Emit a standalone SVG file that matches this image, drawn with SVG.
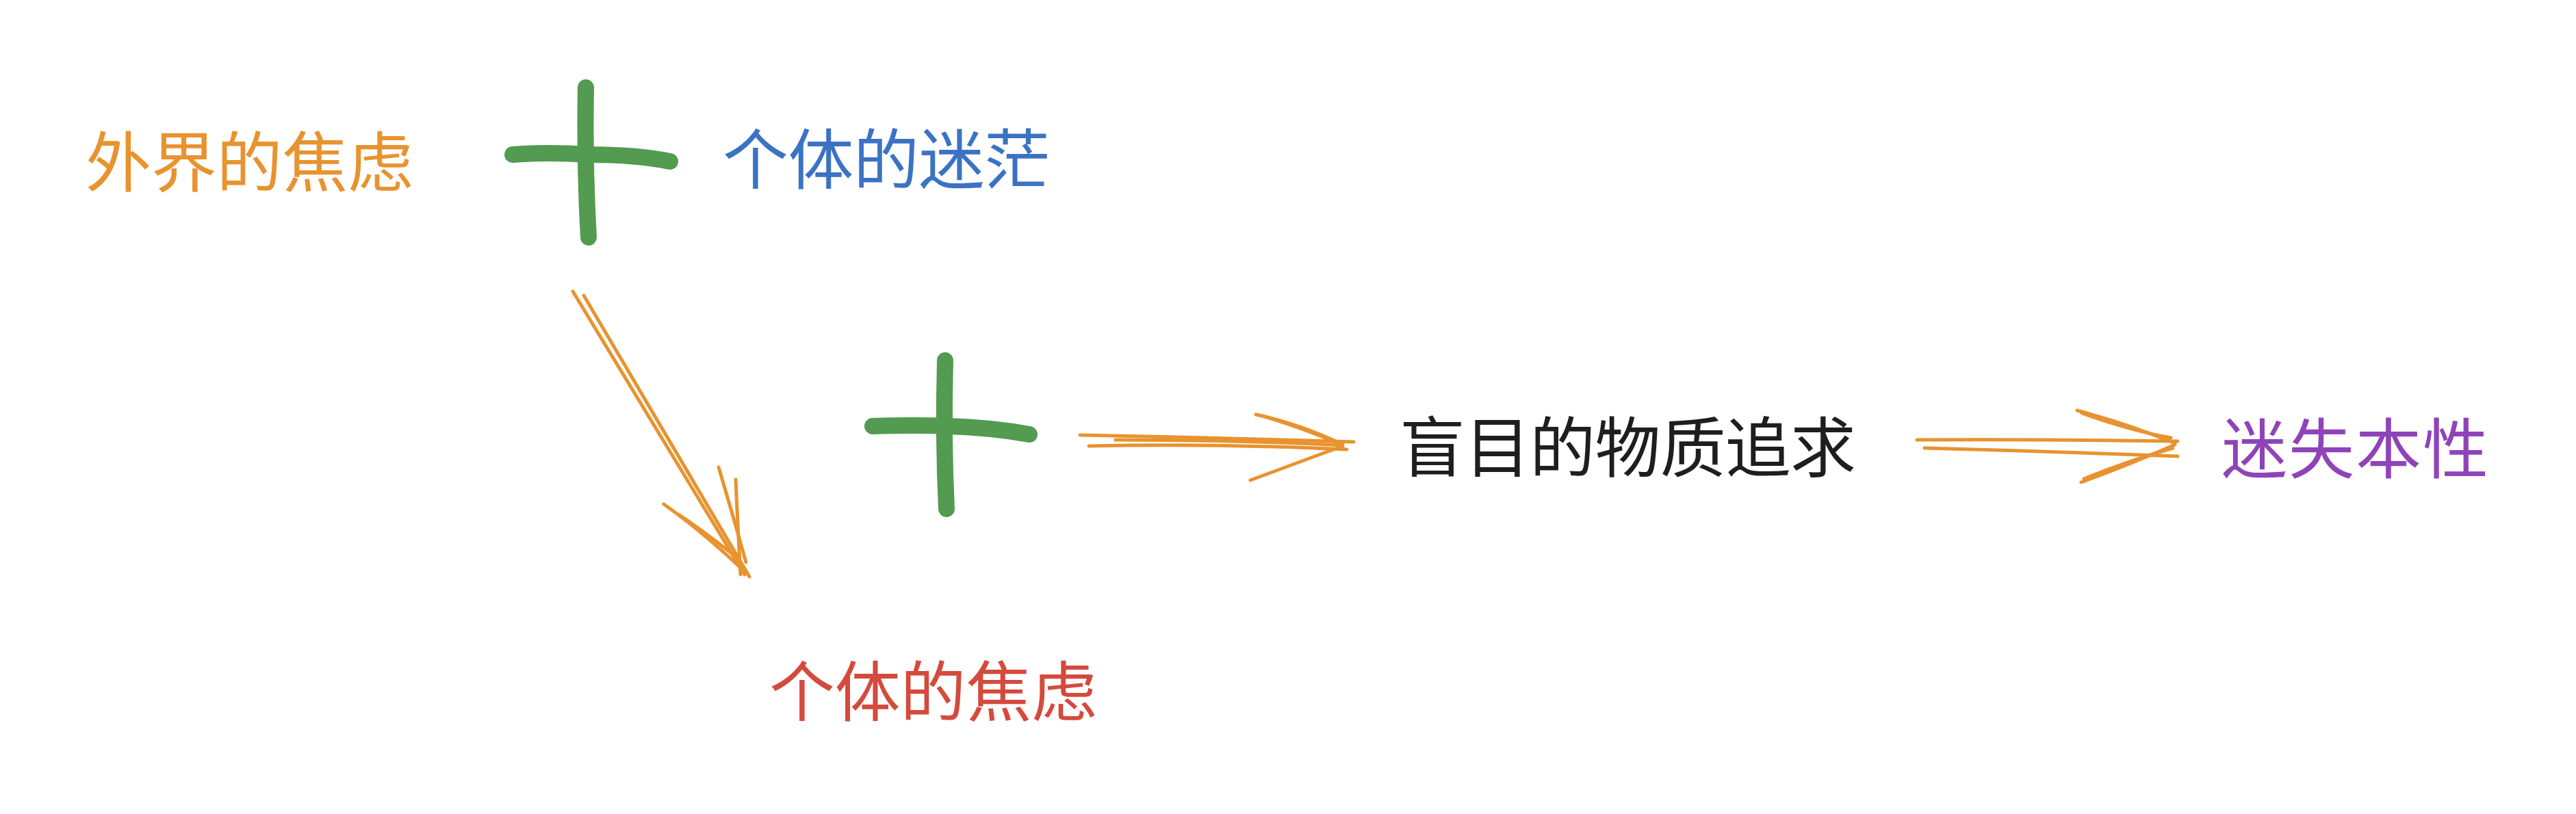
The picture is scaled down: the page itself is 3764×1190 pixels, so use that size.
<svg xmlns="http://www.w3.org/2000/svg" width="3764" height="1190" viewBox="0 0 3764 1190">
<style>
text{font-family:"Noto Sans CJK SC","Noto Sans",sans-serif;font-size:96px;font-weight:400;}
.plus{fill:none;stroke:#529b50;stroke-width:24;stroke-linecap:round;stroke-linejoin:round;}
.arr{fill:none;stroke:#e8932f;stroke-width:5;stroke-linecap:round;stroke-linejoin:round;}
</style>
<rect width="3764" height="1190" fill="#ffffff"/>
<g id="outer-anxiety"><text x="125" y="272" fill="#e8932f" textLength="479" lengthAdjust="spacing">外界的焦虑</text></g>
<g id="plus1"><path class="plus" d="M856 128 Q854 240 860 347"/><path class="plus" d="M749 226 Q800 222 860 226 Q930 226 979 236"/></g>
<g id="individual-confusion"><text x="1056" y="268" fill="#3b73c4" textLength="478" lengthAdjust="spacing">个体的迷茫</text></g>
<g id="plus2"><path class="plus" d="M1381 527 Q1378 640 1383 744"/><path class="plus" d="M1275 623 Q1340 621 1385 623 Q1450 625 1504 635"/></g>
<g id="material-pursuit"><text x="2045" y="689" fill="#1e1e1e" textLength="667" lengthAdjust="spacing">盲目的物质追求</text></g>
<g id="lost-nature"><text x="3246" y="691" fill="#8e44b8" textLength="390" lengthAdjust="spacing">迷失本性</text></g>
<g id="individual-anxiety"><text x="1124" y="1046" fill="#d44a3c" textLength="479" lengthAdjust="spacing">个体的焦虑</text></g>
<g id="connectors">
<g id="arrow1">
<path class="arr" d="M837 426 Q960 630 1088 840"/>
<path class="arr" d="M853 432 Q975 640 1095 843"/>
<path class="arr" d="M970 737 Q1030 780 1082 830"/>
<path class="arr" d="M993 753 Q1040 785 1080 818"/>
<path class="arr" d="M1050 683 Q1070 750 1090 822"/>
<path class="arr" d="M1075 701 Q1078 770 1082 840"/>
</g>
<g id="arrow2">
<path class="arr" d="M1578 636 Q1780 640 1978 646"/>
<path class="arr" d="M1591 652 Q1780 648 1968 657"/>
<path class="arr" d="M1630 643 Q1800 643 1960 651"/>
<path class="arr" d="M1835 606 Q1900 620 1962 650"/>
<path class="arr" d="M1845 608 Q1910 628 1955 648"/>
<path class="arr" d="M1827 702 Q1900 675 1962 652"/>
</g>
<g id="arrow3">
<path class="arr" d="M2801 643 Q2990 642 3182 645"/>
<path class="arr" d="M2812 655 Q3000 660 3182 667"/>
<path class="arr" d="M3035 600 Q3110 620 3178 648"/>
<path class="arr" d="M3042 604 Q3115 630 3172 640"/>
<path class="arr" d="M3041 705 Q3110 680 3178 650"/>
<path class="arr" d="M3045 700 Q3115 672 3175 655"/>
</g>
</g>
</svg>
